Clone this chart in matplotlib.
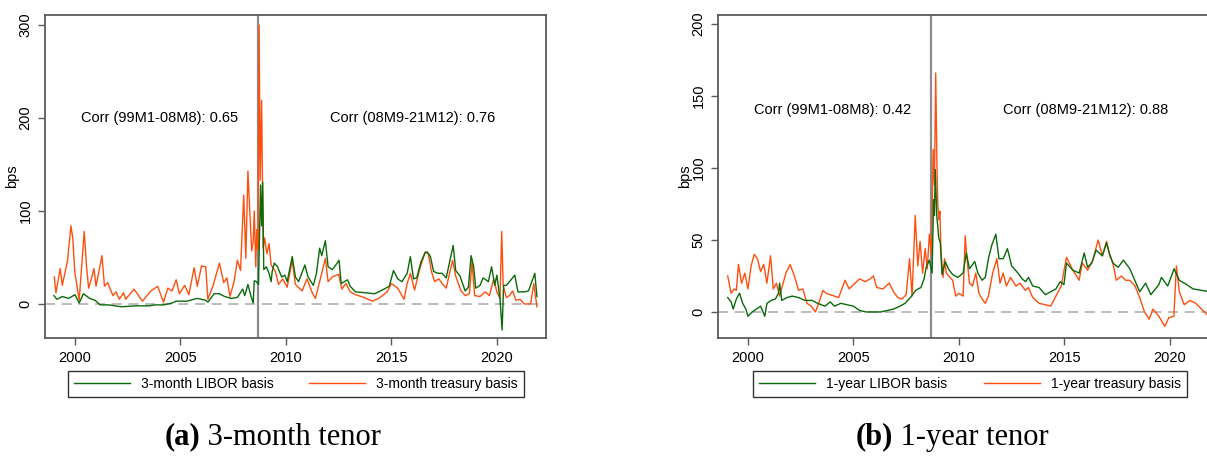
import matplotlib
matplotlib.use('Agg')
import matplotlib.pyplot as plt

plt.rcParams['font.family'] = ['Liberation Sans', 'DejaVu Sans']

# (a) 3-month tenor
libor3_x = [1999.0, 1999.15, 1999.4, 1999.7, 2000.0, 2000.2, 2000.4, 2000.7, 2000.95, 2001.2,
            2001.6, 2002.2, 2002.9, 2003.5, 2003.8, 2004.2, 2004.6, 2004.8, 2005.3, 2005.8,
            2006.2, 2006.3, 2006.6, 2006.85, 2007.1, 2007.4, 2007.7, 2007.95, 2008.05, 2008.2,
            2008.35, 2008.45, 2008.5, 2008.6, 2008.7, 2008.8, 2008.85, 2008.9, 2008.95, 2009.07,
            2009.2, 2009.3, 2009.35, 2009.45, 2009.6, 2009.8, 2009.95, 2010.06, 2010.3, 2010.45,
            2010.6, 2010.9, 2011.05, 2011.3, 2011.45, 2011.6, 2011.7, 2011.87, 2012.0, 2012.2,
            2012.37, 2012.52, 2012.62, 2012.92, 2013.05, 2013.3, 2013.8, 2014.2, 2014.4, 2014.65,
            2014.9, 2015.1, 2015.3, 2015.5, 2015.75, 2015.9, 2016.05, 2016.2, 2016.4, 2016.6,
            2016.7, 2016.85, 2017.0, 2017.2, 2017.4, 2017.6, 2017.75, 2017.93, 2018.05, 2018.25,
            2018.5, 2018.65, 2018.78, 2018.9, 2019.0, 2019.2, 2019.35, 2019.6, 2019.75, 2019.9,
            2020.0, 2020.15, 2020.25, 2020.32, 2020.45, 2020.6, 2020.85, 2021.0, 2021.3, 2021.5,
            2021.8, 2021.9]
libor3_y = [9, 5, 8, 6, 10, 1, 11, 6, 4, -1,
            -1, -3, -2, -2, -1, -1, 1, 3, 3, 6,
            4, 2, 11, 11, 8, 6, 7, 16, 9, 21,
            8, 1, 25, 24, 21, 128, 84, 131, 37, 40,
            33, 24, 35, 44, 40, 29, 31, 24, 51, 29,
            24, 42, 29, 20, 33, 60, 52, 68, 40, 37,
            42, 47, 22, 26, 19, 13, 12, 11, 13, 16,
            19, 36, 27, 24, 33, 51, 27, 28, 45, 55,
            56, 51, 35, 33, 33, 28, 44, 63, 36, 30,
            14, 18, 52, 40, 17, 20, 28, 24, 40, 20,
            31, 5, -28, 20, 20, 24, 31, 13, 13, 14,
            33, 8]

tsy3_x = [1999.02, 1999.1, 1999.3, 1999.4, 1999.65, 1999.81, 1999.9, 1999.99, 2000.2, 2000.44,
          2000.55, 2000.65, 2000.8, 2000.9, 2001.0, 2001.28, 2001.4, 2001.55, 2001.8, 2001.95,
          2002.1, 2002.3, 2002.4, 2002.8, 2003.2, 2003.6, 2003.92, 2004.2, 2004.4, 2004.6,
          2004.8, 2004.95, 2005.2, 2005.4, 2005.65, 2005.8, 2006.0, 2006.2, 2006.3, 2006.55,
          2006.85, 2007.05, 2007.2, 2007.35, 2007.55, 2007.7, 2007.85, 2008.0, 2008.1, 2008.2,
          2008.3, 2008.38, 2008.45, 2008.5, 2008.57, 2008.62, 2008.68, 2008.73, 2008.78, 2008.85,
          2008.92, 2008.99, 2009.1, 2009.2, 2009.3, 2009.5, 2009.65, 2009.85, 2010.06, 2010.3,
          2010.45, 2010.77, 2011.0, 2011.25, 2011.4, 2011.6, 2011.87, 2012.0, 2012.2, 2012.5,
          2012.65, 2012.85, 2013.05, 2013.3, 2013.7, 2014.1, 2014.4, 2014.8, 2015.0, 2015.3,
          2015.6, 2015.75, 2015.9, 2016.1, 2016.35, 2016.6, 2016.75, 2016.9, 2017.05, 2017.25,
          2017.4, 2017.6, 2017.9, 2018.05, 2018.3, 2018.5, 2018.7, 2018.82, 2018.95, 2019.2,
          2019.45, 2019.65, 2019.85, 2020.0, 2020.15, 2020.23, 2020.3, 2020.45, 2020.6, 2020.75,
          2020.9, 2021.1, 2021.3, 2021.6, 2021.75, 2021.9]
tsy3_y = [29, 12, 38, 20, 47, 84, 70, 35, 4, 78,
          40, 17, 29, 38, 19, 52, 19, 23, 9, 13,
          5, 12, 5, 16, 3, 14, 19, 2, 17, 14,
          26, 11, 20, 10, 39, 19, 41, 40, 5, 20,
          44, 23, 28, 8, 25, 47, 36, 117, 49, 143,
          94, 57, 67, 100, 40, 80, 59, 300, 133, 219,
          60, 71, 54, 65, 42, 35, 21, 27, 18, 47,
          21, 14, 27, 12, 6, 24, 49, 24, 29, 32,
          16, 22, 13, 10, 7, 3, 6, 13, 22, 17,
          5, 22, 33, 15, 38, 56, 54, 35, 24, 27,
          22, 17, 47, 30, 14, 9, 11, 45, 9, 8,
          13, 9, 27, 13, 6, 78, 20, 7, 9, 14,
          4, 5, 0, 0, 22, -3]

# (b) 1-year tenor
libor1_x = [1999.04, 1999.2, 1999.3, 1999.45, 1999.6, 1999.75, 1999.9, 2000.0, 2000.2, 2000.4,
            2000.6, 2000.8, 2000.9, 2001.1, 2001.3, 2001.45, 2001.5, 2001.6, 2001.85, 2002.1,
            2002.4, 2002.7, 2003.05, 2003.3, 2003.65, 2003.9, 2004.1, 2004.4, 2004.7, 2005.0,
            2005.3, 2005.6, 2006.0, 2006.3, 2006.6, 2006.9, 2007.2, 2007.45, 2007.7, 2007.95,
            2008.2, 2008.35, 2008.45, 2008.6, 2008.73, 2008.8, 2008.84, 2008.88, 2008.95, 2009.05,
            2009.12, 2009.2, 2009.35, 2009.5, 2009.7, 2009.95, 2010.2, 2010.35, 2010.5, 2010.75,
            2010.9, 2011.1, 2011.25, 2011.4, 2011.55, 2011.75, 2011.9, 2012.1, 2012.3, 2012.5,
            2012.8, 2013.0, 2013.16, 2013.3, 2013.5, 2013.8, 2014.1, 2014.35, 2014.6, 2014.8,
            2014.98, 2015.1, 2015.4, 2015.7, 2015.94, 2016.1, 2016.3, 2016.5, 2016.8, 2017.0,
            2017.15, 2017.3, 2017.55, 2017.8, 2018.1, 2018.25, 2018.57, 2018.85, 2019.1, 2019.48,
            2019.6, 2019.9, 2020.2, 2020.45, 2020.8, 2021.1, 2021.5, 2021.9]
libor1_y = [10, 7, 2, 9, 13, 6, 2, -3, 0, 2,
            4, -3, 6, 8, 9, 13, 20, 8, 10, 11,
            10, 8, 8, 6, 4, 7, 4, 6, 5, 4,
            1, 0, 0, 0, 1, 2, 4, 6, 10, 15,
            17, 23, 31, 36, 27, 78, 67, 99, 67, 51,
            48, 26, 35, 30, 26, 24, 27, 41, 30, 35,
            27, 22, 24, 37, 46, 54, 37, 37, 44, 32,
            27, 23, 21, 24, 18, 17, 12, 14, 16, 21,
            19, 34, 29, 27, 41, 31, 34, 43, 39, 48,
            40, 34, 31, 36, 30, 25, 14, 20, 12, 19,
            24, 18, 30, 22, 19, 16, 15, 14]

tsy1_x = [1999.04, 1999.2, 1999.35, 1999.45, 1999.55, 1999.7, 1999.85, 2000.0, 2000.15, 2000.3,
          2000.45, 2000.6, 2000.75, 2000.9, 2001.07, 2001.2, 2001.35, 2001.5, 2001.65, 2001.8,
          2002.0, 2002.2, 2002.4, 2002.6, 2002.8, 2003.0, 2003.2, 2003.4, 2003.55, 2003.7,
          2003.9, 2004.3, 2004.6, 2004.8, 2005.0, 2005.3, 2005.55, 2005.8, 2005.95, 2006.1,
          2006.4, 2006.7, 2006.9, 2007.1, 2007.3, 2007.5, 2007.66, 2007.78, 2007.93, 2008.05,
          2008.16, 2008.28, 2008.4, 2008.5, 2008.6, 2008.7, 2008.78, 2008.84, 2008.9, 2008.96,
          2009.0, 2009.05, 2009.1, 2009.15, 2009.25, 2009.32, 2009.4, 2009.7, 2009.85, 2010.0,
          2010.2, 2010.3, 2010.37, 2010.5, 2010.65, 2010.8, 2010.95, 2011.1, 2011.25, 2011.4,
          2011.6, 2011.8, 2011.95, 2012.1, 2012.25, 2012.45, 2012.7, 2012.9, 2013.15, 2013.3,
          2013.5, 2013.8, 2014.1, 2014.35, 2014.6, 2014.85, 2015.1, 2015.4, 2015.7, 2015.85,
          2016.1, 2016.35, 2016.6, 2016.8, 2017.0, 2017.15, 2017.3, 2017.46, 2017.7, 2017.9,
          2018.1, 2018.35, 2018.57, 2018.8, 2019.02, 2019.2, 2019.48, 2019.76, 2019.95, 2020.19,
          2020.31, 2020.45, 2020.68, 2020.95, 2021.23, 2021.5, 2021.84]
tsy1_y = [25, 13, 16, 15, 33, 20, 27, 16, 32, 40,
          37, 28, 33, 20, 39, 16, 20, 11, 19, 27,
          33, 25, 15, 16, 6, 4, 0, 8, 15, 13,
          12, 10, 22, 16, 19, 23, 21, 23, 25, 17,
          16, 20, 14, 10, 9, 12, 37, 11, 67, 32,
          49, 27, 44, 30, 54, 40, 113, 88, 166, 101,
          75, 64, 70, 42, 24, 37, 27, 22, 11, 13,
          11, 53, 39, 20, 18, 27, 13, 9, 6, 11,
          27, 37, 20, 27, 18, 24, 18, 20, 15, 17,
          10, 6, 5, 4, 11, 18, 38, 29, 22, 34,
          29, 36, 50, 39, 49, 39, 34, 22, 25, 22,
          22, 18, 10, 0, -5, 2, -3, -10, -4, -3,
          32, 14, 5, 8, 6, 2, -3]

panels = [
    dict(libor_x=libor3_x, libor_y=libor3_y, tsy_x=tsy3_x, tsy_y=tsy3_y,
         ylim=(-36.6, 310.8), yticks=[0, 100, 200, 300], corr=('0.65', '0.76'), ytext=200,
         labels=('3-month LIBOR basis', '3-month treasury basis'),
         left=45, leg=(0.046, 0.91), caption=('(a)', '3-month tenor'), cx=273),
    dict(libor_x=libor1_x, libor_y=libor1_y, tsy_x=tsy1_x, tsy_y=tsy1_y,
         ylim=(-18.1, 206.3), yticks=[0, 50, 100, 150, 200], corr=('0.42', '0.88'), ytext=140,
         labels=('1-year LIBOR basis', '1-year treasury basis'),
         left=718, leg=(0.07, 0.866), caption=('(b)', '1-year tenor'), cx=952),
]

W, H = 1207, 465
fig = plt.figure(figsize=(W / 100, H / 100), dpi=100)
green = '#0a6a0a'
orange = '#ff4f0f'
frame = '#5a5a5a'

for p in panels:
    ax = fig.add_axes([p['left'] / W, (H - 338) / H, 501 / W, 323 / H])
    ax.axhline(0, color='#b0b0b0', lw=1.2, ls=(0, (6, 4)), zorder=1)
    ax.axvline(2008.67, color='#8c8c8c', lw=1.6, zorder=1)
    ax.plot(p['libor_x'], p['libor_y'], color=green, lw=1.0, label=p['labels'][0], zorder=3)
    ax.plot(p['tsy_x'], p['tsy_y'], color=orange, lw=1.0, label=p['labels'][1], zorder=2)
    ax.set_xlim(1998.58, 2022.33)
    ax.set_ylim(*p['ylim'])
    ax.set_xticks([2000, 2005, 2010, 2015, 2020])
    ax.set_yticks(p['yticks'])
    for lab in ax.get_yticklabels():
        lab.set_rotation(90)
        lab.set_va('center')
    ax.tick_params(direction='out', length=5, width=1, color=frame, labelsize=10.5, pad=4)
    for s in ax.spines.values():
        s.set_color(frame)
        s.set_linewidth(1.3)
    ax.set_ylabel('bps', fontsize=10.5)
    ax.yaxis.set_label_coords(-0.051, 0.5)
    ax.text(2004, p['ytext'], 'Corr (99M1-08M8): ' + p['corr'][0], ha='center', va='center', fontsize=10.5)
    ax.text(2016, p['ytext'], 'Corr (08M9-21M12): ' + p['corr'][1], ha='center', va='center', fontsize=10.5)

    x0, w = p['leg']
    leg = ax.legend(loc='upper left', bbox_to_anchor=(x0, -0.102 - 0.085, w, 0.085), mode='expand', ncol=2,
                    fontsize=10, handlelength=4, frameon=True, fancybox=False,
                    borderaxespad=0, borderpad=0.45, columnspacing=1.5)
    leg.get_frame().set_edgecolor('black')
    leg.get_frame().set_linewidth(1.0)

    # caption: bold tag followed by plain text, centred as a whole
    fig.canvas.draw()
    r = fig.canvas.get_renderer()
    ty = (H - 437) / H
    t1 = fig.text(0, ty, p['caption'][0], fontsize=22, family=['Liberation Serif'],
                  fontweight='bold', va='center', ha='left')
    t2 = fig.text(0, ty, ' ' + p['caption'][1], fontsize=22, family=['Liberation Serif'],
                  va='center', ha='left')
    w1 = t1.get_window_extent(r).width
    w2 = t2.get_window_extent(r).width
    start = p['cx'] - (w1 + w2) / 2
    t1.set_x(start / W)
    t2.set_x((start + w1) / W)

fig.savefig('out.png', dpi=100)
